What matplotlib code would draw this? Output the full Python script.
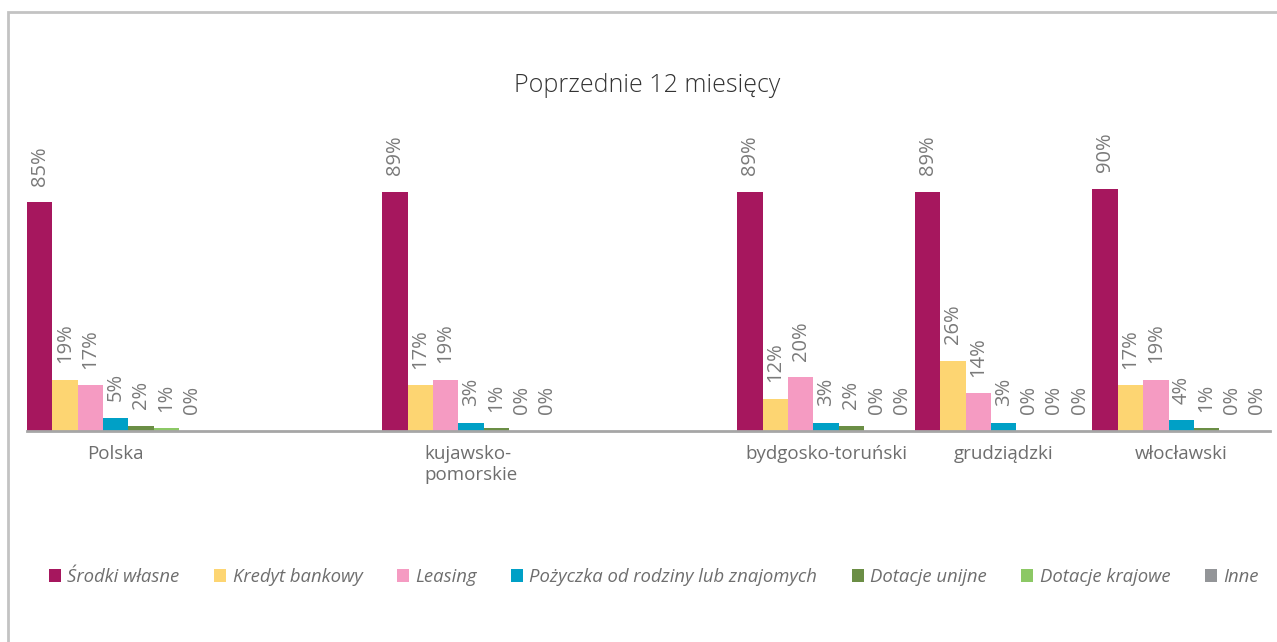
import matplotlib
matplotlib.use("Agg")
from matplotlib import pyplot as plt
from matplotlib.patches import Rectangle
import numpy as np

plt.rcParams['font.family'] = ['Open Sans', 'DejaVu Sans']

####
# data
####
categories = ["Polska", "", "kujawsko-\npomorskie", "", "bydgosko-toruński", "grudziądzki", "włocławski"]
series = ["Środki własne", "Kredyt bankowy", "Leasing", "Pożyczka od rodziny lub znajomych",
          "Dotacje unijne", "Dotacje krajowe", "Inne"]
colors = ["#A6175E", "#FDD572", "#F59BC2", "#00A0C6", "#6B8E45", "#8CC865", "#939598"]

# None = empty slot (no bars)
srodki = [85, None, 89, None, 89, 89, 90]
kredyt = [19, None, 17, None, 12, 26, 17]
leasing = [17, None, 19, None, 20, 14, 19]
pozyczka = [5, None, 3, None, 3, 3, 4]
dot_unijne = [2, None, 1, None, 2, 0, 1]
dot_krajowe = [1, None, 0, None, 0, 0, 0]
inne = [0, None, 0, None, 0, 0, 0]
values = [srodki, kredyt, leasing, pozyczka, dot_unijne, dot_krajowe, inne]

fig = plt.figure(figsize=(12.77, 6.42), dpi=100)

# light frame around the chart
fig.patches.append(Rectangle((8 / 1277, -0.1), 1.2, 1 - 12 / 642 + 0.1, transform=fig.transFigure,
                             fill=False, edgecolor="#c3c3c3", linewidth=2, zorder=0))

ax = fig.add_axes([27 / 1277, 1 - 431 / 642, 1243 / 1277, 269 / 642])

n = len(series)
w = 1.0 / n
x = np.arange(len(categories))
for i in range(n):
    xs = [x[j] - 0.5 + w * (i + 0.5) for j in range(len(categories)) if values[i][j] is not None]
    vs = [v for v in values[i] if v is not None]
    ax.bar(xs, vs, width=w, color=colors[i], label=series[i], zorder=2)
    for xx, vv in zip(xs, vs):
        ax.annotate("%d%%" % vv, (xx, vv), xytext=(0, 12), textcoords="offset points",
                    rotation=90, ha="center", va="bottom", fontsize=14.5, color="#7a7a7a",
                    annotation_clip=False)

ax.set_xlim(-0.5, len(categories) - 0.5)
ax.set_ylim(0, 100)
ax.set_xticks(x)
ax.set_xticklabels(categories, fontsize=13.5, color="#6e6e6e")
for t in ax.get_xticklabels():
    t.set_multialignment("left")
ax.tick_params(axis="x", length=0, pad=10)
ax.set_yticks([])
for s in ["top", "left", "right"]:
    ax.spines[s].set_visible(False)
ax.spines["bottom"].set_color("#a6a6a6")
ax.spines["bottom"].set_linewidth(2)
ax.spines["bottom"].set_zorder(3)

fig.text(0.507, 1 - 85 / 642, "Poprzednie 12 miesięcy", ha="center", va="center",
         fontsize=18, color="#333333", fontweight="light")

leg = fig.legend(loc="center", bbox_to_anchor=(0.512, 1 - 577 / 642), ncol=n, frameon=False,
                 handlelength=0.65, handleheight=0.65, handletextpad=0.35, columnspacing=1.86,
                 prop={"style": "italic", "size": 13.3})
for t in leg.get_texts():
    t.set_color("#6e6e6e")

fig.savefig("out.png", dpi=100)
